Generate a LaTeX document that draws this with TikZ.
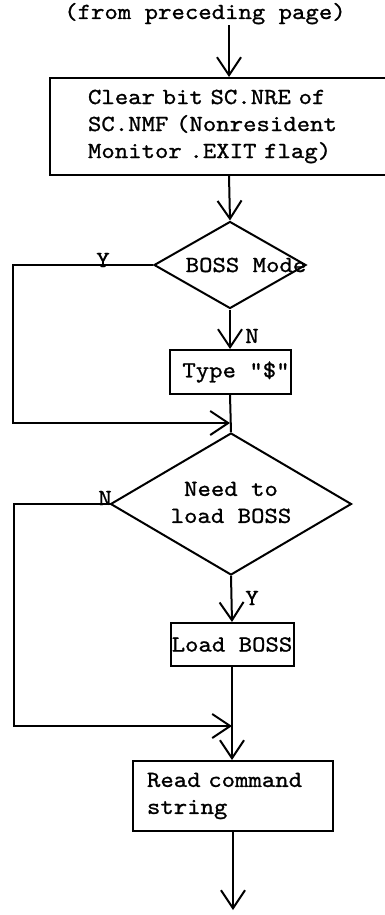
\documentclass[tikz,border=0pt]{standalone}
\usepackage{fontspec}
\newfontfamily\tw{lmmono10-regular.otf}[FakeStretch=1.11,FakeBold=1.0]
\newcommand\twfont{\tw\fontsize{23}{27}\selectfont\fontdimen2\font=13.4pt\relax\fontdimen3\font=0pt\relax\fontdimen4\font=0pt\relax}
\usetikzlibrary{arrows.meta,shapes.geometric}
\begin{document}
\begin{tikzpicture}[x=1pt,y=-1pt,
  every node/.style={font=\twfont, inner sep=0pt},
  ln/.style={line width=2pt},
  arr/.style={line width=2pt,-{Straight Barb[length=18pt,width=24pt,line width=2pt]}},
  box/.style={draw,line width=2pt,rectangle},
  dia/.style={draw,line width=2pt,diamond,inner sep=0pt},
  lbl/.style={anchor=base}]
\clip (0,0) rectangle (385,915);
% column coordinates
\coordinate (c) at (229,0);
\coordinate (l1) at (13,0);
\coordinate (l2) at (14,0);
\coordinate (j1) at (230,423);
\coordinate (j2) at (232,726);
\coordinate (fin) at (233,910);
% nodes
\node[lbl,inner sep=1pt] (title) at (205,19) {(from preceding page)};
\node[box,anchor=north west,minimum width=346pt,minimum height=97pt,
      inner xsep=38pt,text width=270pt,align=left] (b1) at (49,77)
  {Clear bit SC.NRE of\\SC.NMF (Nonresident\\Monitor .EXIT flag)};
\node[dia,minimum width=152pt,minimum height=87pt] (d1) at (230,265)
  {\makebox[0pt]{\hspace{32pt}BOSS Mode}};
\node[lbl] (y1) at (103,267) {Y};
\node[lbl] (n1) at (252,343) {N};
\node[box,minimum width=121pt,minimum height=44pt] (t1) at (230,372)
  {\hspace*{12pt}Type "\$"};
\node[dia,minimum width=241pt,minimum height=142pt] (d2) at (231,504)
  {\makebox[0pt]{\begin{tabular}{@{}c@{}}Need to\\load BOSS\end{tabular}}};
\node[lbl] (n2) at (105,505) {N};
\node[lbl] (y2) at (252,605) {Y};
\node[box,minimum width=123pt,minimum height=43pt] (lb) at (232,644.5) {Load BOSS};
\node[box,minimum width=200pt,minimum height=70pt,inner xsep=14pt,
      text width=172pt,align=left] (rc) at (233,796) {Read command\\string};
% connectors
\draw[arr] (title.south -| c) -- (b1.north -| c);
\draw[arr] (b1.south -| c) -- (d1.north);
\draw[arr] (d1.south) -- (t1.north);
\draw[ln] (t1.south) -- (d2.north);
\draw[arr] (d1.west) -- (d1.west -| l1) -- (l1 |- j1) -- (j1);
\draw[arr] (d2.south) -- (lb.north);
\draw[arr] (lb.south) -- (rc.north -| lb.south);
\draw[arr] (d2.west) -- (d2.west -| l2) -- (l2 |- j2) -- (j2);
\draw[arr] (rc.south) -- (fin);
\end{tikzpicture}
\end{document}
